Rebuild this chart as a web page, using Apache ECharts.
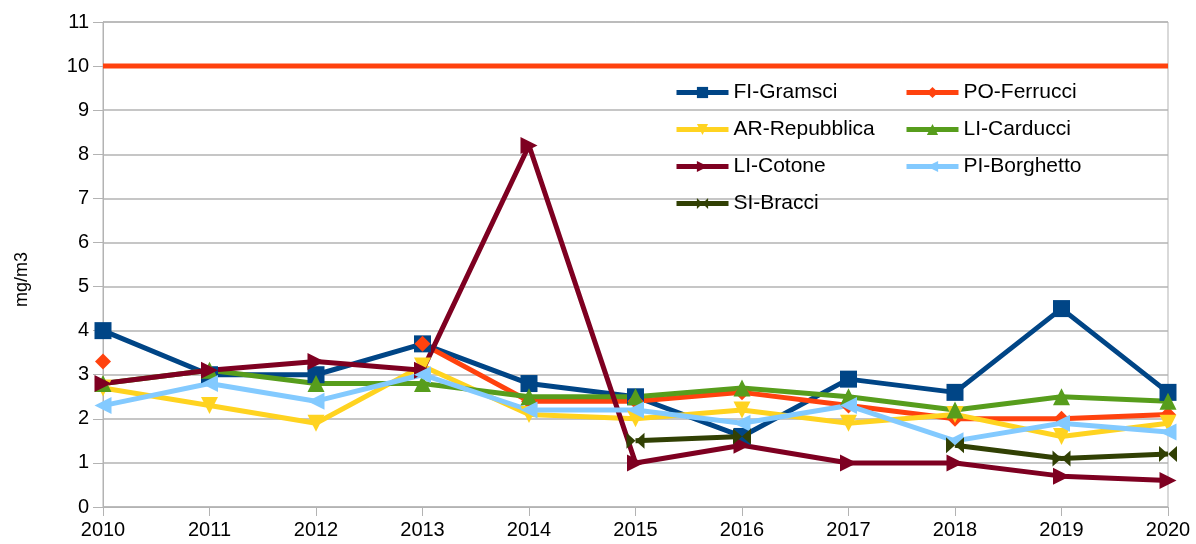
<!DOCTYPE html>
<html>
<head>
<meta charset="utf-8">
<script src="https://cdn.jsdelivr.net/npm/echarts@6/dist/echarts.min.js"></script>
<style>
  html, body { margin: 0; padding: 0; background: #fff; }
  #chart { width: 1196px; height: 544px; }
</style>
</head>
<body>
<div id="chart"></div>
<script>
// anni e valori (mg/m3)
var years = ['2010','2011','2012','2013','2014','2015','2016','2017','2018','2019','2020'];
var gramsci    = [4.0, 3.0, 3.0, 3.7, 2.8, 2.5, 1.6, 2.9, 2.6, 4.5, 2.6];
var ferrucci   = [3.3, null, null, 3.7, 2.4, 2.4, 2.6, 2.3, 2.0, 2.0, 2.1];
var repubblica = [2.7, 2.3, 1.9, 3.2, 2.1, 2.0, 2.2, 1.9, 2.1, 1.6, 1.9];
var carducci   = [2.8, 3.1, 2.8, 2.8, 2.5, 2.5, 2.7, 2.5, 2.2, 2.5, 2.4];
var cotone     = [2.8, 3.1, 3.3, 3.1, 8.2, 1.0, 1.4, 1.0, 1.0, 0.7, 0.6];
var borghetto  = [2.3, 2.8, 2.4, 3.0, 2.2, 2.2, 1.9, 2.3, 1.5, 1.9, 1.7];
var bracci     = [null, null, null, null, null, 1.5, 1.6, null, 1.4, 1.1, 1.2];
var limite     = [10, 10, 10, 10, 10, 10, 10, 10, 10, 10, 10];

var chart = echarts.init(document.getElementById('chart'));

var font = 'Liberation Sans';
var bowtie = 'path://M0,0 L10,5 L0,10 Z M20,0 L10,5 L20,10 Z';

function serie(name, data, color, symbol, size, rotate) {
  return {
    name: name,
    type: 'line',
    data: data,
    color: color,
    symbol: symbol,
    symbolSize: size,
    symbolRotate: rotate || 0,
    showAllSymbol: true,
    connectNulls: false,
    lineStyle: { width: 5, color: color },
    itemStyle: { color: color },
    emphasis: { disabled: true }
  };
}

var legendText = { fontFamily: font, fontSize: 21, color: '#000', lineHeight: 20 };

var option = {
  animation: false,
  textStyle: { fontFamily: font },
  grid: {
    left: 103, right: 28, top: 22, bottom: 37,
    show: true, borderColor: '#b3b3b3', borderWidth: 1
  },
  legend: [
    {
      left: 669, top: 77, orient: 'vertical',
      itemWidth: 52, itemHeight: 14, itemGap: 16,
      lineStyle: { width: 5 },
      textStyle: legendText,
      data: ['FI-Gramsci', 'AR-Repubblica', 'LI-Cotone', 'SI-Bracci']
    },
    {
      left: 899, top: 77, orient: 'vertical',
      itemWidth: 52, itemHeight: 14, itemGap: 16,
      lineStyle: { width: 5 },
      textStyle: legendText,
      data: ['PO-Ferrucci', 'LI-Carducci', 'PI-Borghetto']
    }
  ],
  xAxis: {
    type: 'category',
    data: years,
    boundaryGap: false,
    axisLine: { lineStyle: { color: '#b3b3b3', width: 1 } },
    axisTick: { show: true, length: 9, lineStyle: { color: '#b3b3b3' } },
    axisLabel: { color: '#000', fontSize: 20, fontFamily: font, margin: 13 }
  },
  yAxis: {
    type: 'value',
    min: 0, max: 11, interval: 1,
    name: 'mg/m3',
    nameLocation: 'middle',
    nameGap: 72,
    nameTextStyle: { color: '#000', fontSize: 18, fontFamily: font, padding: [0, 30, 0, 0] },
    axisLine: { show: true, lineStyle: { color: '#b3b3b3' } },
    axisTick: { show: true, length: 10, lineStyle: { color: '#b3b3b3' } },
    axisLabel: { color: '#000', fontSize: 20, fontFamily: font, margin: 14 },
    splitLine: { lineStyle: { color: '#b3b3b3', width: 1.5 } }
  },
  series: [
    {
      name: 'Limite', type: 'line', data: limite, symbol: 'none',
      lineStyle: { width: 5, color: '#ff420e' }, color: '#ff420e',
      emphasis: { disabled: true }, silent: true
    },
    serie('FI-Gramsci', gramsci, '#004586', 'rect', 17),
    serie('PO-Ferrucci', ferrucci, '#ff420e', 'diamond', 16),
    serie('AR-Repubblica', repubblica, '#ffd320', 'triangle', 17, 180),
    serie('LI-Carducci', carducci, '#579d1c', 'triangle', 17),
    serie('LI-Cotone', cotone, '#7e0021', 'triangle', 17, -90),
    serie('PI-Borghetto', borghetto, '#83caff', 'triangle', 17, 90),
    serie('SI-Bracci', bracci, '#314004', bowtie, [18, 16])
  ]
};

chart.setOption(option);
</script>
</body>
</html>
